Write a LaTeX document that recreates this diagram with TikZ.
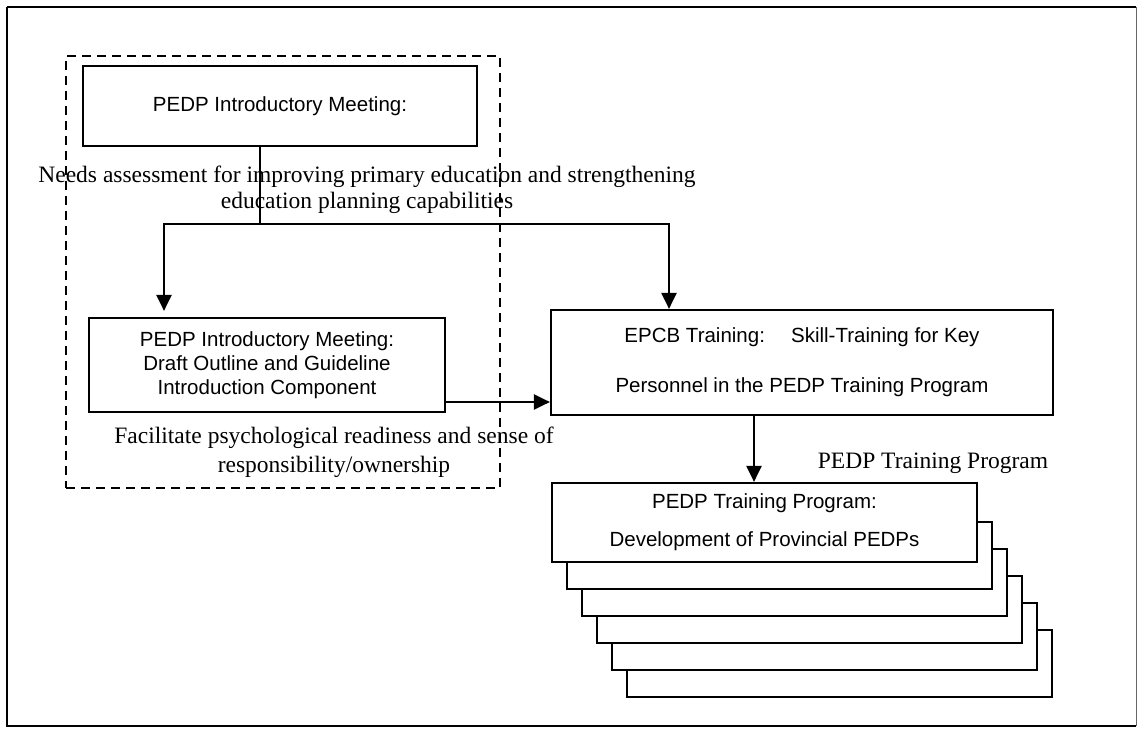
\documentclass[tikz,border=0pt]{standalone}
\usepackage{fontspec}
\setmainfont{Liberation Serif}
\setsansfont{Liberation Sans}
\usetikzlibrary{arrows.meta}
\begin{document}
\begin{tikzpicture}[x=1pt,y=-1pt,
  box/.style={draw, line width=2.2pt, fill=white, inner sep=0pt, align=center,
    font=\sffamily\fontsize{20.5}{24}\selectfont},
  dashbox/.style={draw, line width=1.8pt, dash pattern=on 9pt off 6pt, inner sep=0pt},
  conn/.style={line width=2.2pt},
  arr/.style={conn, -{Triangle[width=15pt,length=16pt]}},
  caption/.style={inner sep=0pt, align=center, font=\fontsize{23.5}{26}\selectfont}]
\useasboundingbox (0,0) rectangle (1137,728);

% outer frame
\draw[line width=2.2pt] (7,7) -- (7,726) -- (1136,726);
\draw[line width=2.2pt] (7,7) -- (1136,7);
\draw[line width=1pt, black!60] (1136,7) -- (1136,726);

% meeting phase group
\node[dashbox, minimum width=434pt, minimum height=432pt] (group) at (283,272) {};

% free captions
\node[caption] (needs) at (367,190)
  {Needs assessment for improving primary education and strengthening\\education planning capabilities};
\node[caption, font=\fontsize{23.5}{29}\selectfont] (facil) at (334,452)
  {Facilitate psychological readiness and sense of\\responsibility/ownership};
\node[caption] (plabel) at (933,463) {PEDP Training Program};

% boxes
\node[box, minimum width=394pt, minimum height=80pt] (top) at (280,106)
  {PEDP Introductory Meeting:};
\node[box, minimum width=356pt, minimum height=94pt] (intro) at (267,365)
  {PEDP Introductory Meeting:\\Draft Outline and Guideline\\Introduction Component};
\node[box, minimum width=502pt, minimum height=105pt,
      font=\sffamily\fontsize{20.5}{50}\selectfont] (epcb) at (802,362.5)
  {EPCB Training:\quad\ Skill-Training for Key\\Personnel in the PEDP Training Program};

% stacked provincial programmes, back to front
\foreach \i in {5,4,3,2,1}{
  \node[box, minimum width=425pt, minimum height=67pt] (b\i)
    at ({764.5+15*\i},{528.5+27*\i}) {};
}
\node[box, minimum width=425pt, minimum height=79pt,
      font=\sffamily\fontsize{20.5}{38}\selectfont] (prog) at (764.5,522.5)
  {PEDP Training Program:\\Development of Provincial PEDPs};

% connectors
\coordinate (hj) at (260,224);
\coordinate (hl) at (164,224);
\coordinate (hr) at (669,224);
\coordinate (vd) at (754,0);
\draw[conn] (hj |- top.south) -- (hj);
\draw[arr] (hj) -- (hl) -- ([yshift=6pt]hl |- intro.north);
\draw[arr] (hj) -- (hr) -- (hr |- epcb.north);
\draw[arr] ([yshift=-37pt]intro.east) -- ([yshift=-37pt]intro.east -| epcb.west);
\draw[arr] (vd |- epcb.south) -- (vd |- prog.north);
\end{tikzpicture}
\end{document}
